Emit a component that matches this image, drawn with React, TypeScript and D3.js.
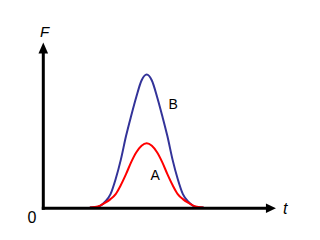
import React from 'react';
import * as d3 from 'd3';

// time samples (t) for both curves
const tValues = [
  2.25, 2.5, 2.75, 3, 3.25, 3.5, 3.75, 4, 4.25, 4.5, 4.75, 5,
  5.25, 5.5, 5.75, 6, 6.25, 6.5, 6.75, 7, 7.25, 7.5, 7.75,
];
// curve B (blue)
const seriesB = [
  0, 0.01, 0.12, 0.45, 1.0, 2.14, 3.6, 5.37, 6.9, 8.33, 9.55, 10,
  9.55, 8.33, 6.9, 5.37, 3.6, 2.14, 1.0, 0.45, 0.12, 0.01, 0,
];
// curve A (red)
const seriesA = [
  0, 0.04, 0.145, 0.36, 0.63, 1.01, 1.69, 2.51, 3.41, 4.15, 4.64, 4.83,
  4.64, 4.15, 3.41, 2.51, 1.69, 1.01, 0.63, 0.36, 0.145, 0.04, 0,
];
const seriesNames = ['A', 'B'];
const axisNames = ['t', 'F'];
const originLabel = '0';

const W = 320;
const H = 240;
const FONT = '"Liberation Sans", Arial, sans-serif';

export default function App() {
  const x = d3.scaleLinear().domain([0, 10]).range([43.3, 250.1]);
  const y = d3.scaleLinear().domain([0, 10]).range([207.5, 74.5]);
  const tAxisMax = 11.25;
  const fAxisMax = 12.4;

  const line = d3
    .line<number>()
    .x((_, i) => x(tValues[i]))
    .y((d) => y(d))
    .curve(d3.curveMonotoneX);

  const x0 = x(0);
  const yAxisY = 208.3;
  const xTip = x(tAxisMax);
  const yTip = y(fAxisMax);
  const ah = 10; // arrowhead length
  const aw = 4.8; // arrowhead half width

  return (
    <svg
      width={W}
      height={H}
      style={{ position: 'absolute', left: 0, top: 0, background: '#fff' }}
    >
      <rect x={0} y={0} width={W} height={H} fill="#fff" />
      <path d={line(seriesB) || ''} fill="none" stroke="#333399" strokeWidth={2} />
      <path d={line(seriesA) || ''} fill="none" stroke="#ff0000" strokeWidth={2} />

      {/* axes */}
      <line x1={x0} y1={yAxisY + 1.5} x2={x0} y2={yTip + ah - 1} stroke="#000" strokeWidth={3} />
      <polygon
        points={`${x0},${yTip} ${x0 - aw},${yTip + ah + 1} ${x0 + aw},${yTip + ah + 1}`}
        fill="#000"
      />
      <line x1={x0 - 1.5} y1={yAxisY} x2={xTip - ah + 1} y2={yAxisY} stroke="#000" strokeWidth={3} />
      <polygon
        points={`${xTip},${yAxisY} ${xTip - ah},${yAxisY - aw} ${xTip - ah},${yAxisY + aw}`}
        fill="#000"
      />

      {/* labels */}
      <text x={40} y={37} fontFamily={FONT} fontSize={15} fontStyle="italic">
        {axisNames[1]}
      </text>
      <text x={283} y={213.5} fontFamily={FONT} fontSize={16} fontStyle="italic">
        {axisNames[0]}
      </text>
      <text x={27.5} y={223.3} fontFamily={FONT} fontSize={16}>
        {originLabel}
      </text>
      <text x={168.5} y={108.5} fontFamily={FONT} fontSize={14}>
        {seriesNames[1]}
      </text>
      <text x={150.5} y={179.5} fontFamily={FONT} fontSize={14}>
        {seriesNames[0]}
      </text>
    </svg>
  );
}
